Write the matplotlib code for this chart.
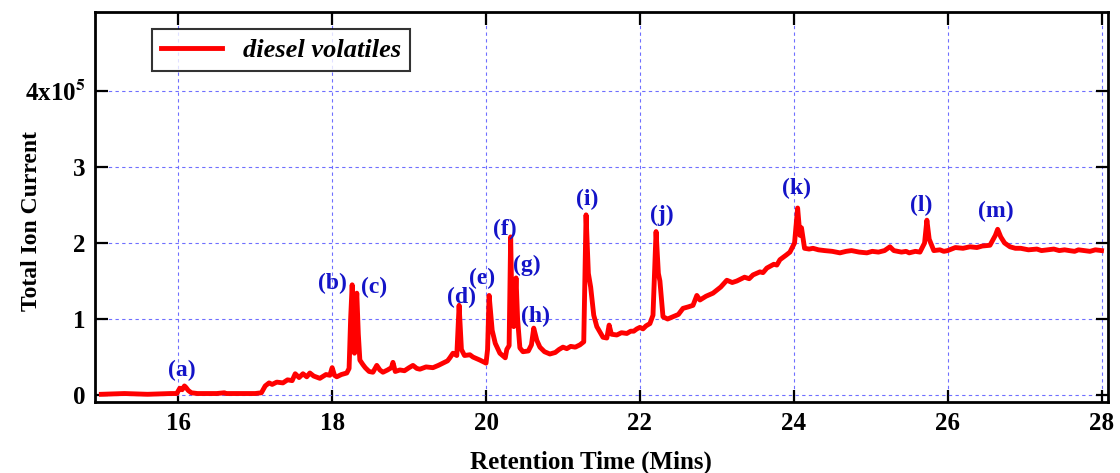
import matplotlib
matplotlib.use("Agg")
import matplotlib.pyplot as plt

# retention time (min) and total ion current (x1e5)
time_min = [15.00, 15.3, 15.6, 15.9, 15.98, 16.02, 16.05, 16.08, 16.10, 16.13, 16.17, 16.25,
            16.5, 16.6, 16.62, 16.8, 17.0, 17.08, 17.13, 17.18, 17.22, 17.28, 17.36, 17.42,
            17.48, 17.52, 17.57, 17.62, 17.67, 17.71, 17.76, 17.84, 17.92, 17.97, 18.00, 18.03,
            18.06, 18.12, 18.19, 18.22, 18.24, 18.26, 18.28, 18.29, 18.30, 18.32, 18.34, 18.36,
            18.40, 18.43, 18.48, 18.53, 18.58, 18.62, 18.66, 18.72, 18.77, 18.79, 18.82, 18.88,
            18.94, 19.0, 19.05, 19.1, 19.14, 19.22, 19.31, 19.38, 19.44, 19.5, 19.53, 19.57,
            19.62, 19.65, 19.68, 19.72, 19.79, 19.83, 19.92, 20.00, 20.02, 20.04, 20.08, 20.12,
            20.18, 20.25, 20.27, 20.30, 20.32, 20.34, 20.36, 20.39, 20.41, 20.44, 20.48, 20.55,
            20.59, 20.62, 20.66, 20.70, 20.76, 20.83, 20.9, 20.95, 21.0, 21.05, 21.1, 21.16,
            21.22, 21.27, 21.30, 21.33, 21.36, 21.40, 21.44, 21.52, 21.57, 21.60, 21.63, 21.70,
            21.76, 21.83, 21.88, 21.92, 21.96, 22.00, 22.04, 22.08, 22.13, 22.17, 22.21, 22.24,
            22.26, 22.30, 22.36, 22.43, 22.50, 22.56, 22.63, 22.69, 22.74, 22.78, 22.86, 22.95,
            23.0, 23.05, 23.13, 23.2, 23.26, 23.36, 23.42, 23.47, 23.56, 23.6, 23.65, 23.74,
            23.78, 23.82, 23.9, 23.95, 24.01, 24.05, 24.08, 24.10, 24.14, 24.2, 24.25, 24.32,
            24.4, 24.5, 24.6, 24.68, 24.75, 24.85, 24.95, 25.02, 25.1, 25.18, 25.25, 25.3,
            25.4, 25.46, 25.5, 25.58, 25.64, 25.7, 25.73, 25.76, 25.82, 25.9, 25.95, 26.0,
            26.1, 26.2, 26.29, 26.38, 26.45, 26.55, 26.62, 26.65, 26.69, 26.74, 26.81, 26.88,
            26.95, 27.05, 27.16, 27.22, 27.3, 27.38, 27.45, 27.52, 27.58, 27.65, 27.7, 27.78,
            27.85, 27.92, 28.0]
tic = [0.01, 0.02, 0.01, 0.02, 0.02, 0.09, 0.07, 0.12, 0.10, 0.06, 0.03, 0.02,
       0.02, 0.03, 0.02, 0.02, 0.02, 0.03, 0.12, 0.16, 0.14, 0.17, 0.16, 0.20,
       0.19, 0.28, 0.23, 0.28, 0.24, 0.29, 0.25, 0.22, 0.27, 0.26, 0.36, 0.26,
       0.24, 0.27, 0.29, 0.35, 1.0, 1.45, 0.9, 0.55, 1.0, 1.34, 0.8, 0.46,
       0.40, 0.36, 0.31, 0.30, 0.39, 0.33, 0.30, 0.33, 0.36, 0.43, 0.31, 0.33,
       0.32, 0.36, 0.39, 0.35, 0.34, 0.37, 0.36, 0.39, 0.42, 0.45, 0.49, 0.55,
       0.52, 1.18, 0.60, 0.52, 0.53, 0.50, 0.46, 0.42, 0.60, 1.31, 0.85, 0.68,
       0.55, 0.49, 0.60, 0.65, 2.08, 0.95, 0.90, 1.54, 1.0, 0.62, 0.57, 0.58,
       0.66, 0.88, 0.72, 0.63, 0.57, 0.54, 0.56, 0.60, 0.63, 0.61, 0.64, 0.63,
       0.66, 0.70, 2.37, 1.60, 1.42, 1.05, 0.90, 0.76, 0.75, 0.92, 0.80, 0.79,
       0.82, 0.81, 0.84, 0.84, 0.87, 0.89, 0.87, 0.91, 0.94, 1.05, 2.15, 1.60,
       1.50, 1.03, 1.00, 1.03, 1.06, 1.14, 1.16, 1.18, 1.31, 1.25, 1.30, 1.34,
       1.38, 1.42, 1.51, 1.48, 1.50, 1.55, 1.53, 1.58, 1.62, 1.61, 1.67, 1.72,
       1.71, 1.78, 1.84, 1.88, 2.00, 2.46, 2.10, 2.20, 1.93, 1.92, 1.93, 1.91,
       1.90, 1.89, 1.87, 1.89, 1.90, 1.88, 1.87, 1.89, 1.88, 1.90, 1.95, 1.90,
       1.88, 1.89, 1.87, 1.89, 1.88, 2.00, 2.30, 2.05, 1.90, 1.91, 1.89, 1.90,
       1.94, 1.93, 1.95, 1.94, 1.96, 1.97, 2.10, 2.18, 2.08, 2.00, 1.95, 1.93,
       1.93, 1.91, 1.92, 1.90, 1.91, 1.92, 1.90, 1.91, 1.90, 1.89, 1.91, 1.90,
       1.89, 1.91, 1.90]

# peak labels and where they sit
peak_labels = ["(a)", "(b)", "(c)", "(d)", "(e)", "(f)", "(g)", "(h)", "(i)", "(j)", "(k)", "(l)", "(m)"]
label_x = [16.05, 18.01, 18.55, 19.68, 19.95, 20.25, 20.53, 20.64, 21.32, 22.29, 24.04, 25.65, 26.62]
label_y = [0.33, 1.47, 1.42, 1.28, 1.54, 2.18, 1.71, 1.04, 2.57, 2.36, 2.72, 2.49, 2.42]

x_ticks = [16, 18, 20, 22, 24, 26, 28]
y_ticks = [0, 1, 2, 3, 4]
y_tick_labels = ["0", "1", "2", "3", r"4x10$^\mathbf{5}$"]

plt.rcParams["font.family"] = ["Liberation Serif", "DejaVu Serif"]
plt.rcParams["font.weight"] = "bold"
plt.rcParams["mathtext.fontset"] = "stix"

fig = plt.figure(figsize=(11.2, 4.73), dpi=100)
ax = fig.add_axes([0.085, 0.150, 0.904, 0.825])

ax.plot(time_min, tic, color="red", lw=3.5, label="diesel volatiles")

for lab, lx, ly in zip(peak_labels, label_x, label_y):
    ax.text(lx, ly, lab, color="#1414c8", fontsize=17, fontweight="bold",
            ha="center", va="center")

ax.set_xlim(14.92, 28.08)
ax.set_ylim(-0.092, 5.04)
ax.set_xticks(x_ticks)
ax.set_yticks(y_ticks)
ax.set_yticklabels(y_tick_labels)
ax.tick_params(direction="in", length=9, width=1.6, labelsize=18,
               top=True, right=True, pad=7)
for lbl in ax.get_xticklabels() + ax.get_yticklabels():
    lbl.set_fontweight("bold")

ax.grid(True, color="#6f6fff", linestyle=(0, (3, 3)), linewidth=0.8)
for s in ax.spines.values():
    s.set_linewidth(2)

ax.set_xlabel("Retention Time (Mins)", fontsize=18, fontweight="bold")
ax.xaxis.set_label_coords(0.49, -0.155)
ax.xaxis.label.set_va("center")
ax.set_ylabel("Total Ion Current", fontsize=17, fontweight="bold")
ax.yaxis.set_label_coords(-0.063, 0.464)
ax.yaxis.label.set_va("center")

leg = ax.legend(loc="upper left", bbox_to_anchor=(0.056, 0.955), borderaxespad=0,
                fancybox=False, handlelength=2.3, borderpad=0.35,
                prop={"style": "italic", "weight": "bold", "size": 19})
leg.get_frame().set_edgecolor("black")
leg.get_frame().set_linewidth(1.5)

fig.savefig("out.png", dpi=100)
